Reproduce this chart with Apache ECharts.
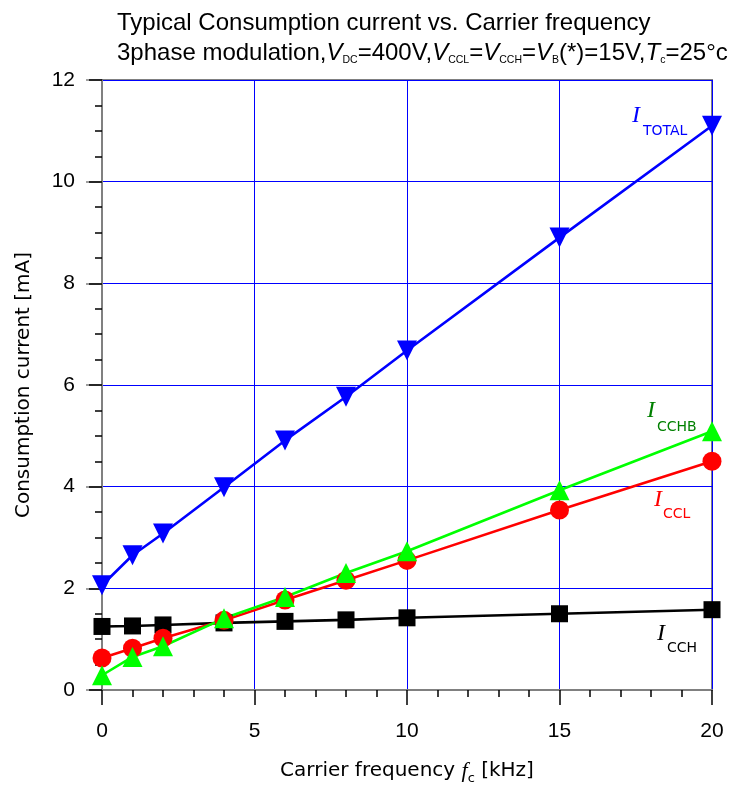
<!DOCTYPE html>
<html><head><meta charset="utf-8">
<script src="https://cdn.jsdelivr.net/npm/echarts@6/dist/echarts.min.js"></script>
<style>html,body{margin:0;padding:0;background:#fff}#c{width:734px;height:787px}</style>
</head><body><div id="c"></div>
<script>
const freq = [0, 1, 2, 4, 6, 8, 10, 15, 20];
const iTotal = [2.06, 2.65, 3.08, 3.99, 4.91, 5.77, 6.68, 8.90, 11.10];
const iCchb = [0.29, 0.65, 0.86, 1.41, 1.83, 2.30, 2.73, 3.93, 5.09];
const iCcl = [0.63, 0.82, 1.02, 1.37, 1.77, 2.16, 2.55, 3.54, 4.50];
const iCch = [1.25, 1.26, 1.28, 1.32, 1.35, 1.38, 1.42, 1.50, 1.58];
const ARIAL = '"Liberation Sans", Arial, sans-serif';
const VERD = '"DejaVu Sans", Verdana, sans-serif';
const SERIF = '"Liberation Serif", "DejaVu Serif", serif';

const chart = echarts.init(document.getElementById('c'));
const pair = (ys) => freq.map((x, i) => [x, ys[i]]);
function mk(name, data, color, symbol, size, rotate) {
  return {name, type: 'line', data: pair(data), symbol, symbolSize: size, symbolRotate: rotate || 0,
    lineStyle: {color, width: 2.6}, itemStyle: {color}, z: 3, animation: false};
}
function lab(x, yI, ySub, subX, name, color) {
  return [
    {type: 'text', x: x, y: yI, z: 10, style: {text: 'I', fill: color, font: 'italic 24px ' + SERIF, textVerticalAlign: 'middle'}},
    {type: 'text', x: subX, y: ySub, z: 10, style: {text: name, fill: color, font: '14px ' + VERD, textVerticalAlign: 'middle'}}
  ];
}
const tickBase = (inside, color) => ({show: true, inside, length: 15, lineStyle: {color, width: 1.5}});
const minorBase = (n) => ({show: true, splitNumber: n, length: 7, lineStyle: {color: '#000', width: 1.5}});
const sub = {fontSize: 10.5, fontFamily: ARIAL, color: '#000', padding: [15, 0, 0, 0], lineHeight: 30};
const itl = {fontSize: 24, fontStyle: 'italic', fontFamily: ARIAL, color: '#000', lineHeight: 30};
chart.setOption({
  animation: false,
  grid: {left: 102, right: 22, top: 80, bottom: 97, show: true, borderColor: '#808080', borderWidth: 2,
    containLabel: false, outerBoundsMode: 'none'},
  title: {
    left: 112, top: 3,
    text: 'Typical Consumption current vs. Carrier frequency\n3phase modulation,{i|V}{s|DC}=400V,{i|V}{s|CCL}={i|V}{s|CCH}={i|V}{s|B}(*)=15V,{i|T}{s|c}=25°c',
    textStyle: {fontSize: 24, fontWeight: 'normal', color: '#000', fontFamily: ARIAL, lineHeight: 30,
      rich: {i: itl, s: sub}}
  },
  xAxis: [
    {type: 'value', min: 0, max: 20, interval: 5,
      axisLine: {show: true, lineStyle: {color: '#808080', width: 2}},
      axisTick: tickBase(false, '#000'), minorTick: minorBase(5),
      splitLine: {show: true, lineStyle: {color: '#0000ff', width: 1}},
      axisLabel: {fontSize: 21, color: '#000', fontFamily: ARIAL, margin: 31},
      name: '{a|Carrier frequency }{i|f}{s|c}{a| [kHz]}', nameLocation: 'middle', nameGap: 67,
      nameTextStyle: {rich: {
        a: {fontSize: 20, color: '#000', fontFamily: VERD},
        i: {fontSize: 22, fontStyle: 'italic', fontFamily: SERIF, color: '#000'},
        s: {fontSize: 13, color: '#000', fontFamily: VERD, padding: [15, 0, 0, 0]}}}
    },
    {type: 'value', position: 'top', min: 0, max: 20, interval: 5,
      axisLine: {show: true, lineStyle: {color: '#808080', width: 2}},
      axisTick: Object.assign(tickBase(true, '#000'), {length: 13}), minorTick: minorBase(5),
      axisLabel: {show: false}, splitLine: {show: false}}
  ],
  yAxis: [
    {type: 'value', min: 0, max: 12, interval: 2,
      axisLine: {show: true, lineStyle: {color: '#000', width: 2}},
      axisTick: Object.assign(tickBase(false, '#808080'), {length: 16}), minorTick: minorBase(4),
      splitLine: {show: true, lineStyle: {color: '#0000ff', width: 1}},
      axisLabel: {fontSize: 21, color: '#000', fontFamily: ARIAL, margin: 27},
      name: 'Consumption current [mA]', nameLocation: 'middle', nameGap: 68, nameRotate: 90,
      nameTextStyle: {fontSize: 20, color: '#000', fontFamily: VERD}
    },
    {type: 'value', position: 'right', min: 0, max: 12, interval: 2,
      axisLine: {show: true, lineStyle: {color: '#808080', width: 2}},
      axisTick: Object.assign(tickBase(true, '#000'), {length: 13}), minorTick: minorBase(4),
      axisLabel: {show: false}, splitLine: {show: false}}
  ],
  series: [
    mk('ICCH', iCch, '#000000', 'rect', 17),
    mk('ICCL', iCcl, '#ff0000', 'circle', 19),
    mk('ICCHB', iCchb, '#00ff00', 'triangle', 20),
    mk('ITOTAL', iTotal, '#0000ff', 'triangle', 20, 180)
  ],
  graphic: [].concat(
    lab(632, 116, 131, 643, 'TOTAL', '#0000ff'),
    lab(647, 411, 427, 657, 'CCHB', '#008000'),
    lab(654, 500, 514, 663, 'CCL', '#ff0000'),
    lab(657, 634, 648, 667, 'CCH', '#000000')
  )
});
</script></body></html>
